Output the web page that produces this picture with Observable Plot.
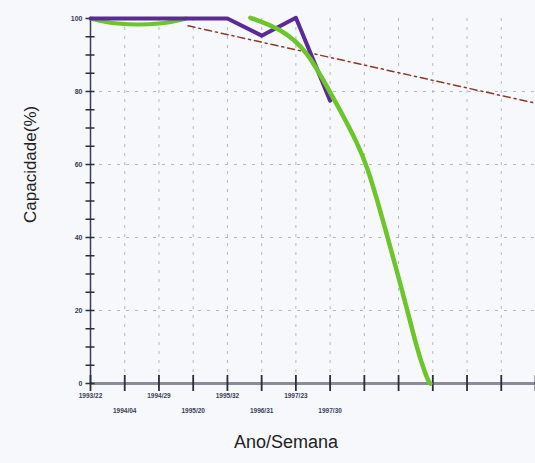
<!DOCTYPE html>
<html><head><meta charset="utf-8">
<script src="https://cdn.jsdelivr.net/npm/d3@7"></script>
<script src="https://cdn.jsdelivr.net/npm/@observablehq/plot@0.6"></script>
<style>body{margin:0;background:#f7f8fc;} svg{display:block}</style>
</head><body><div id="chart"></div>
<script>
const tickLabels = ["1993/22","1994/04","1994/29","1995/20","1995/32","1996/31","1997/23","1997/30"];
const tickIndex = d3.range(0, 14);
const purpleX = [0, 1, 2, 3, 4, 5, 6, 7];
const purpleY = [100, 100, 100, 100, 100, 95.3, 100.2, 77.5];
const greenStartX = [0, 0.8, 2.0, 2.8];
const greenStartY = [100, 98.6, 98.6, 100];
const greenCurveX = [4.67, 5.55, 6.34, 7.01, 7.30, 7.80, 8.09, 8.38, 8.68, 8.97, 9.26, 9.55, 9.85, 9.93];
const greenCurveY = [100.2, 97.3, 91.2, 79.5, 74.8, 65.8, 59.2, 50.1, 40, 30.1, 20, 9, 0.8, 0];
const trendX = [2.85, 13];
const trendY = [98, 76.8];
const yMajor = [0, 20, 40, 60, 80, 100];
const yMinor = d3.range(0, 101, 5);
const yGrid = [20, 40, 60, 80];

const zip = (xs, ys) => xs.map((x, i) => ({x, y: ys[i]}));

const chart = Plot.plot({
  width: 535, height: 463,
  marginLeft: 90, marginRight: 0, marginTop: 18, marginBottom: 80,
  style: {background: "#f7f8fc", fontFamily: "'Liberation Sans', Arial, sans-serif"},
  x: {domain: [0, 13], axis: null},
  y: {domain: [0, 100], axis: null},
  marks: [
    Plot.gridX(tickIndex.slice(1), {stroke: "#b4b8c6", strokeOpacity: 1, strokeDasharray: "3,6"}),
    Plot.gridY(yGrid, {stroke: "#b4b8c6", strokeOpacity: 1, strokeDasharray: "3,6"}),
    Plot.ruleY([0], {stroke: "#8a8d99", strokeWidth: 3}),
    Plot.ruleX([0], {stroke: "#3a3f55", strokeWidth: 1.5}),
    Plot.axisX(tickIndex, {label: null, tickSize: 16, dy: -8, tickFormat: () => "", stroke: "#2a2d3a", strokeWidth: 1.8}),
    Plot.axisX(tickIndex.filter(i => i < 8 && i % 2 === 0), {label: null, tickSize: 0, tickPadding: 10, tickFormat: i => tickLabels[i], fontSize: 6.5, fontWeight: "bold", fill: "#3a3d55"}),
    Plot.axisX(tickIndex.filter(i => i < 8 && i % 2 === 1), {label: null, tickSize: 0, tickPadding: 25, tickFormat: i => tickLabels[i], fontSize: 6.5, fontWeight: "bold", fill: "#3a3d55"}),
    Plot.axisY(yMinor, {label: null, tickSize: 9, dx: 4.5, tickFormat: () => "", stroke: "#2a2d3a", strokeWidth: 1.5}),
    Plot.axisY(yMajor, {label: null, tickSize: 0, tickPadding: 8, fontSize: 7, fontWeight: "bold", fill: "#3a3d55"}),
    Plot.line(zip(trendX, trendY), {x: "x", y: "y", stroke: "#8b3a2a", strokeWidth: 1.5, strokeDasharray: "7,4,2,4"}),
    Plot.line(zip(greenStartX, greenStartY), {x: "x", y: "y", stroke: "#6cc62a", strokeWidth: 4, curve: "catmull-rom"}),
    Plot.line(zip(purpleX, purpleY), {x: "x", y: "y", stroke: "#5b2a9a", strokeWidth: 4}),
    Plot.line(zip(greenCurveX, greenCurveY), {x: "x", y: "y", stroke: "#6cc62a", strokeWidth: 4.5, curve: "basis"}),
    Plot.text(["Capacidade(%)"], {text: d => d, frameAnchor: "left", dx: -60, dy: 22, rotate: -90, fontSize: 17, fill: "#222"}),
    Plot.text(["Ano/Semana"], {text: d => d, frameAnchor: "bottom", dx: -27, dy: 64, fontSize: 18, fill: "#222"})
  ]
});
document.getElementById("chart").appendChild(chart);
</script>
</body></html>
